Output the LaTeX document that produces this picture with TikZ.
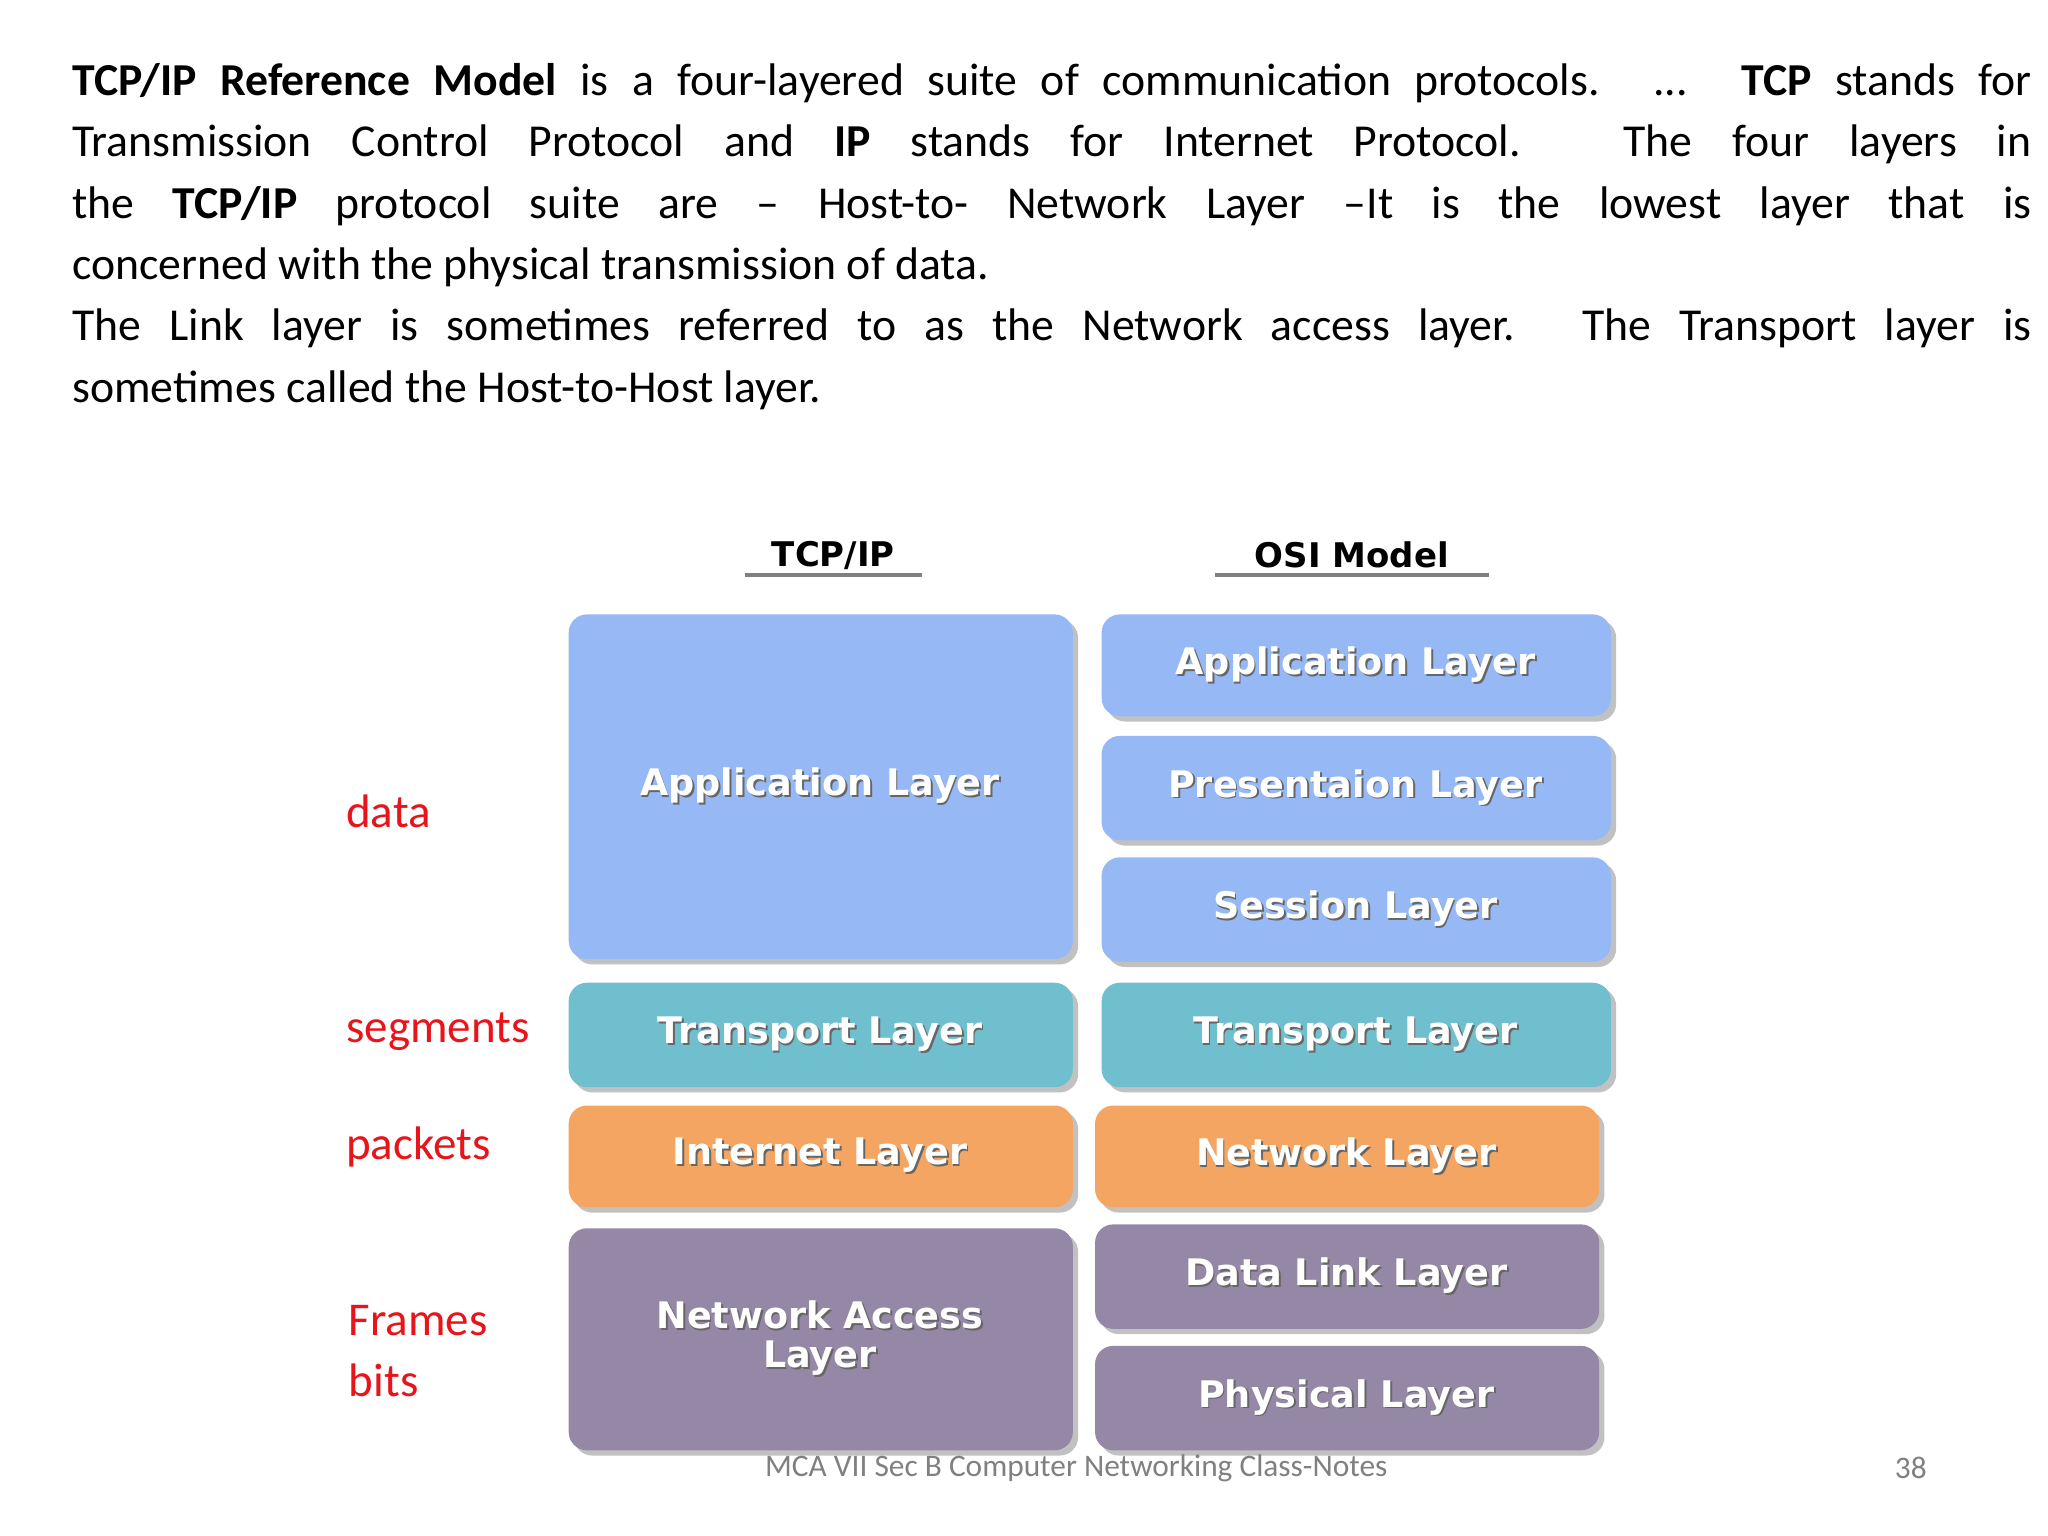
\documentclass[tikz,border=0pt]{standalone}
\usepackage{fontspec}
\setmainfont{Carlito}
\newfontfamily\boxfont{DejaVu Sans}
\usetikzlibrary{shadows}
\definecolor{appb}{HTML}{96B9F6}
\definecolor{trb}{HTML}{70BFCF}
\definecolor{orb}{HTML}{F3A561}
\definecolor{pub}{HTML}{9587A6}
\definecolor{lab}{HTML}{E8141B}
\tikzset{
 lay/.style={draw=none,rounded corners=7pt,drop shadow={shadow xshift=2pt,shadow yshift=-2pt,fill=gray!60,opacity=0.8},anchor=north west,inner sep=0pt},
 ltxt/.style={font=\boxfont\bfseries\fontsize{14}{15}\selectfont,text=white,align=center},
 rlab/.style={anchor=west,text=lab,font=\fontsize{18}{22}\selectfont},
 hd/.style={font=\boxfont\bfseries\fontsize{13}{14}\selectfont}
}
\newcommand{\shtext}[1]{\tikz[baseline]{\node[text=gray!80!black,inner sep=0,anchor=base] at (0.7pt,-0.7pt){#1};\node[inner sep=0,anchor=base] at (0,0){#1};}}
\begin{document}
\begin{tikzpicture}[x=0.5pt,y=-0.5pt]
\useasboundingbox (0,0) rectangle (1568,1176);
\node[anchor=north west,inner sep=0,text width=750pt,align=justify,font=\fontsize{17.5}{23.5}\selectfont] (para) at (55,48)
{\textbf{TCP/IP Reference Model} is a four-layered suite of communication protocols. ... \textbf{TCP} stands for\linebreak
Transmission Control Protocol and \textbf{IP} stands for Internet Protocol. The four layers in\linebreak
the \textbf{TCP/IP} protocol suite are -- Host-to- Network Layer --It is the lowest layer that is\linebreak
concerned with the physical transmission of data.\par
The Link layer is sometimes referred to as the Network access layer. The Transport layer is\linebreak
sometimes called the Host-to-Host layer.};

\node[hd] (h1) at (638,425) {TCP/IP};
\draw[gray,line width=1.5pt] (570,440) -- (706,440);
\node[hd] (h2) at (1035,425) {OSI Model};
\draw[gray,line width=1.5pt] (930,440) -- (1140,440);

% TCP/IP column
\node[lay,fill=appb,minimum width=193pt,minimum height=132pt] (a1) at (435,470) {};
\node[lay,fill=trb,minimum width=193pt,minimum height=40pt] (t1) at (435,752) {};
\node[lay,fill=orb,minimum width=193pt,minimum height=39pt] (i1) at (435,846) {};
\node[lay,fill=pub,minimum width=193pt,minimum height=85pt] (n1) at (435,940) {};
% OSI column
\node[lay,fill=appb,minimum width=195pt,minimum height=39pt] (a2) at (843,470) {};
\node[lay,fill=appb,minimum width=195pt,minimum height=40pt] (p2) at (843,563) {};
\node[lay,fill=appb,minimum width=195pt,minimum height=40pt] (s2) at (843,656) {};
\node[lay,fill=trb,minimum width=195pt,minimum height=40pt] (t2) at (843,752) {};
\node[lay,fill=orb,minimum width=193pt,minimum height=39pt] (n2) at (838,846) {};
\node[lay,fill=pub,minimum width=193pt,minimum height=40pt] (d2) at (838,937) {};
\node[lay,fill=pub,minimum width=193pt,minimum height=40pt] (ph2) at (838,1030) {};

\node[ltxt] at (a1.center) {\shtext{Application Layer}};
\node[ltxt] at (t1.center) {\shtext{Transport Layer}};
\node[ltxt] at (i1.center) {\shtext{Internet Layer}};
\node[ltxt] at (n1.center) {\shtext{Network Access}\\\shtext{Layer}};
\node[ltxt] at (a2.center) {\shtext{Application Layer}};
\node[ltxt] at (p2.center) {\shtext{Presentaion Layer}};
\node[ltxt] at (s2.center) {\shtext{Session Layer}};
\node[ltxt] at (t2.center) {\shtext{Transport Layer}};
\node[ltxt] at (n2.center) {\shtext{Network Layer}};
\node[ltxt] at (d2.center) {\shtext{Data Link Layer}};
\node[ltxt] at (ph2.center) {\shtext{Physical Layer}};

\node[rlab] (l1) at (258,621) {data};
\node[rlab] (l2) at (258,790) {segments};
\node[rlab] (l3) at (258,878) {packets};
\node[rlab] (l4) at (260,1011) {Frames};
\node[rlab] (l5) at (260,1057) {bits};

\node[text=gray,font=\fontsize{12}{14}\selectfont] (f1) at (824,1124) {MCA VII Sec B Computer Networking Class-Notes};
\node[text=gray,font=\fontsize{12}{14}\selectfont] (f2) at (1463,1124) {38};
\end{tikzpicture}
\end{document}
